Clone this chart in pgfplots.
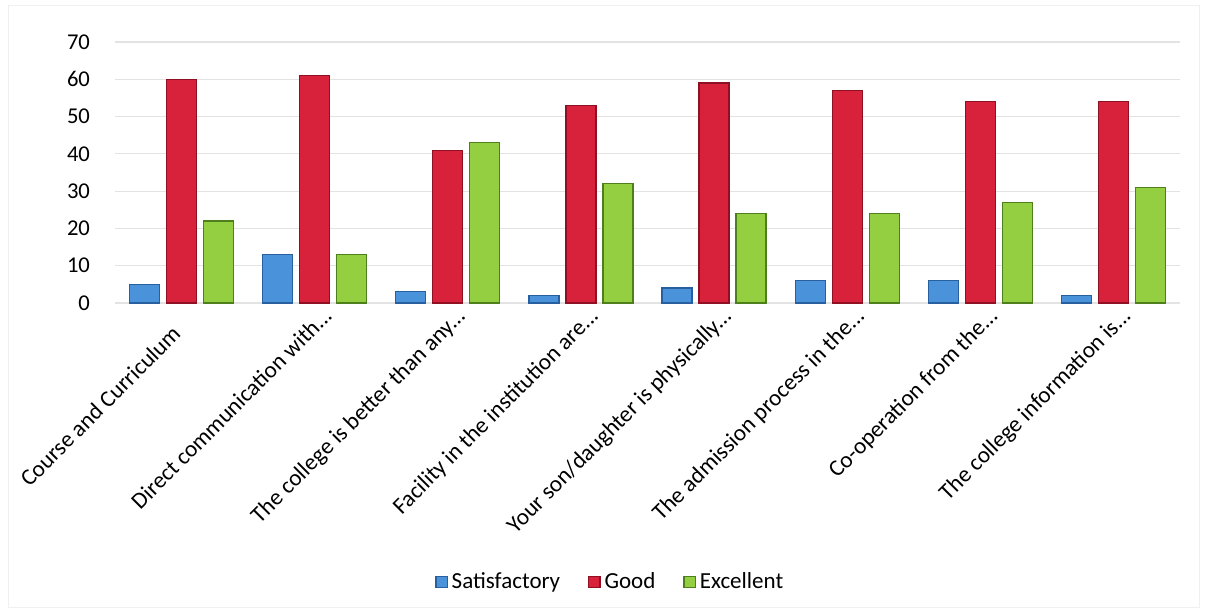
\documentclass[border=0pt]{standalone}
\usepackage{pgfplots}
\pgfplotsset{compat=1.18}
\usepackage{fontspec}
\setmainfont{Carlito}
\newcommand{\ddd}{.\kern0pt.\kern0pt.}
\definecolor{sblue}{HTML}{4A92DA}
\definecolor{sbluedk}{HTML}{28609F}
\definecolor{sred}{HTML}{D8223C}
\definecolor{sreddk}{HTML}{8E1022}
\definecolor{sgreen}{HTML}{94CF42}
\definecolor{sgreendk}{HTML}{4E7F1C}
\begin{document}
\begin{tikzpicture}
\path[use as bounding box] (-57.5pt,-156pt) rectangle (545pt,151.5pt);
\draw[gray!12] (-53.5pt,-152pt) rectangle (542pt,149pt);
\begin{axis}[
  at={(0pt,0pt)}, anchor=south west,
  scale only axis,
  width=532.5pt, height=130.5pt,
  xmin=-0.5, xmax=7.5,
  ymin=0, ymax=70,
  ytick={0,10,20,30,40,50,60,70},
  xtick={0,1,2,3,4,5,6,7},
  xticklabels={{Course and Curriculum\hspace*{13pt}},{Direct communication with\ddd},{The college is better than any\ddd},{Facility in the institution are\ddd},{Your son/daughter is physically\ddd},{The admission process in the\ddd},{Co-operation from the\ddd},{The college information is\ddd}},
  x tick label style={xshift=9.5pt, yshift=-7pt, rotate=45, anchor=base east, inner sep=0pt, font=\fontsize{11.6}{13}\selectfont},
  y tick label style={font=\fontsize{11.3}{13}\selectfont, xshift=-9pt},
  /pgf/number format/assume math mode=true,
  major tick length=0pt,
  axis line style={draw=none},
  ymajorgrids,
  grid style={gray!22, line width=0.6pt},
  ybar=3.5pt,
  bar width=15pt,
  legend style={at={(0.466,-1.069)}, anchor=center, draw=none, legend columns=3,
    font=\fontsize{11.5}{13}\selectfont, /tikz/every even column/.append style={column sep=12pt}},
  legend image code/.code={\fill[#1] (0pt,-2.8pt) rectangle (5.6pt,2.8pt);},
  clip=false,
]
\addplot[draw=sbluedk, fill=sblue, line width=0.6pt]
  coordinates {(0,5) (1,13) (2,3) (3,2) (4,4) (5,6) (6,6) (7,2)};
\addplot[draw=sreddk, fill=sred, line width=0.6pt]
  coordinates {(0,60) (1,61) (2,41) (3,53) (4,59) (5,57) (6,54) (7,54)};
\addplot[draw=sgreendk, fill=sgreen, line width=0.6pt]
  coordinates {(0,22) (1,13) (2,43) (3,32) (4,24) (5,24) (6,27) (7,31)};
\legend{Satisfactory,Good,Excellent}
\end{axis}
\end{tikzpicture}
\end{document}
